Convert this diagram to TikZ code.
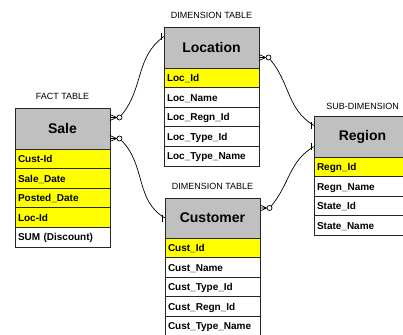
\documentclass[tikz,border=0pt]{standalone}
\usepackage{fontspec}
\setmainfont{Liberation Sans}
\usetikzlibrary{positioning,calc}
\definecolor{hdrgray}{HTML}{C0C0C0}
\definecolor{keyyellow}{HTML}{FFFF00}
\newcommand\crowfoot[2]{%
  \draw[conn] (#1.west) -- ($(#1.west -| #2.east)+(0,-3)$)
              (#1.west) -- (#1.west -| #2.east)
              (#1.west) -- ($(#1.west -| #2.east)+(0,3)$);}
\newcommand\onebar[1]{\draw[conn] ($(#1)+(-2.5,-3.5)$) -- ++(0,7);}
\begin{document}
\begin{tikzpicture}[x=1pt,y=-1pt,
  tbl/.style={draw=black!85, line width=0.8pt, outer sep=0pt, minimum width=95pt},
  hdr/.style={tbl, fill=hdrgray, minimum height=41pt, inner sep=0pt,
    font=\fontsize{14}{16}\selectfont\bfseries},
  fld/.style={tbl, fill=white, minimum height=19.6pt, text width=89pt,
    inner xsep=3pt, inner ysep=0pt, align=left, text height=7.2pt, text depth=0pt,
    font=\fontsize{10}{12}\selectfont\bfseries},
  key/.style={fld, fill=keyyellow},
  tcap/.style={font=\fontsize{9}{11}\selectfont, inner sep=0pt},
  conn/.style={line width=0.7pt, black},
  opt/.style={circle, draw, line width=0.7pt, inner sep=0pt, minimum size=5pt}
]
\useasboundingbox (0,0) rectangle (403,334);
\clip (0,0) rectangle (403,334);
\fill[white] (0,0) rectangle (403,334);

% Sale
\node[hdr, anchor=north west] (sale) at (15,108) {Sale};
\node[key, below=0pt of sale] (sale1) {Cust-Id};
\node[key, below=0pt of sale1] (sale2) {Sale\_Date};
\node[key, below=0pt of sale2] (sale3) {Posted\_Date};
\node[key, below=0pt of sale3] (sale4) {Loc-Id};
\node[fld, below=0pt of sale4] (sale5) {SUM (Discount)};
\node[tcap] (salecap) at ($(sale.north)+(0,-11.5)$) {FACT TABLE};

% Location
\node[hdr, anchor=north west] (loc) at (164,27) {Location};
\node[key, below=0pt of loc] (loc1) {Loc\_Id};
\node[fld, below=0pt of loc1] (loc2) {Loc\_Name};
\node[fld, below=0pt of loc2] (loc3) {Loc\_Regn\_Id};
\node[fld, below=0pt of loc3] (loc4) {Loc\_Type\_Id};
\node[fld, below=0pt of loc4] (loc5) {Loc\_Type\_Name};
\node[tcap] (loccap) at ($(loc.north)+(0,-11.5)$) {DIMENSION TABLE};

% Customer
\node[hdr, anchor=north west, minimum height=40pt] (cust) at (165,198) {Customer};
\node[key, below=0pt of cust] (cust1) {Cust\_Id};
\node[fld, below=0pt of cust1] (cust2) {Cust\_Name};
\node[fld, below=0pt of cust2] (cust3) {Cust\_Type\_Id};
\node[fld, below=0pt of cust3] (cust4) {Cust\_Regn\_Id};
\node[fld, below=0pt of cust4] (cust5) {Cust\_Type\_Name};
\node[tcap] (custcap) at ($(cust.north)+(0,-12)$) {DIMENSION TABLE};

% Region
\node[hdr, anchor=north west, minimum width=97pt] (reg) at (314,116) {Region};
\node[key, below=0pt of reg, minimum width=97pt, text width=91pt] (reg1) {Regn\_Id};
\node[fld, below=0pt of reg1, minimum width=97pt, text width=91pt] (reg2) {Regn\_Name};
\node[fld, below=0pt of reg2, minimum width=97pt, text width=91pt] (reg3) {State\_Id};
\node[fld, below=0pt of reg3, minimum width=97pt, text width=91pt] (reg4) {State\_Name};
\node[tcap] (regcap) at ($(reg.north)+(0,-10)$) {SUB-DIMENSION};

% connector ends
\node[opt] (o1) at ($(sale.east)+(9.5,-11)$) {};
\node[opt] (o2) at ($(sale.east)+(9.5,10)$) {};
\node[opt] (o3) at ($(loc.east)+(9.5,10)$) {};
\node[opt] (o4) at ($(cust.east)+(9.5,-10)$) {};
\coordinate (b1) at ($(loc.west)+(0,-11)$);
\coordinate (b2) at (cust.west);
\coordinate (b3) at ($(reg.west)+(0,-11)$);
\coordinate (b4) at ($(reg.west)+(0,10)$);

\draw[conn] (o1) to[out=50,in=215] (b1);
\draw[conn] (o2) to[out=-45,in=150] (b2);
\draw[conn] (o3) to[out=-50,in=150] (b3);
\draw[conn] (o4) to[out=50,in=210] (b4);

\crowfoot{o1}{sale}
\crowfoot{o2}{sale}
\crowfoot{o3}{loc}
\crowfoot{o4}{cust}
\onebar{b1}
\onebar{b2}
\onebar{b3}
\onebar{b4}
\end{tikzpicture}
\end{document}
